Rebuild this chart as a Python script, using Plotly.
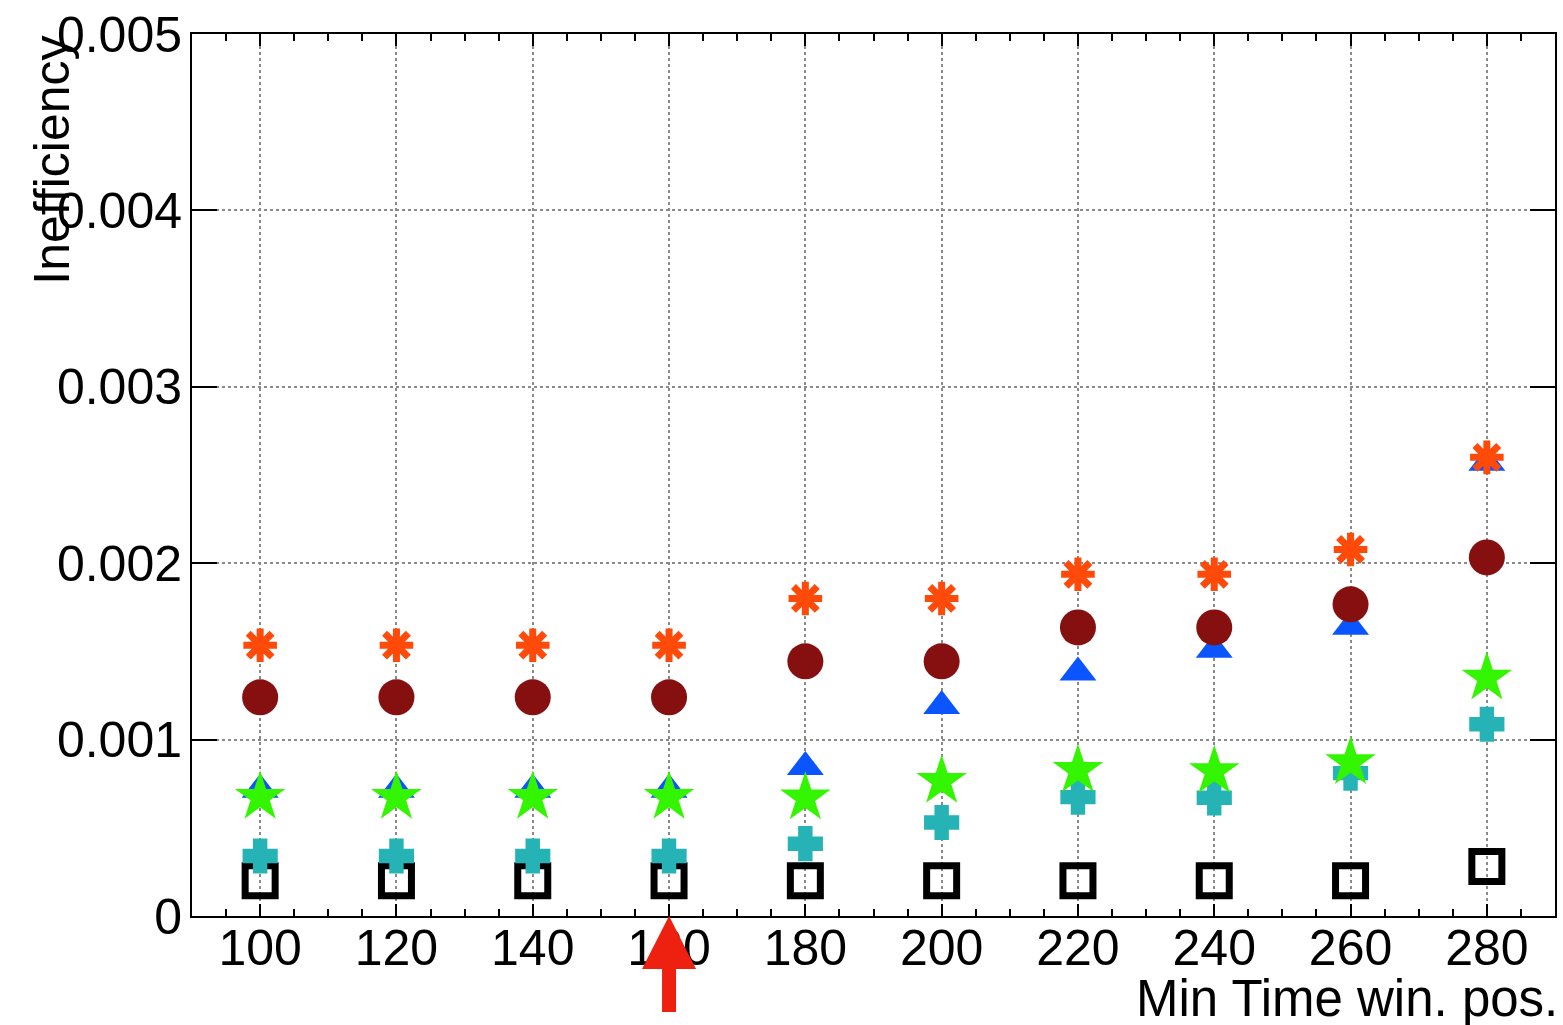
import plotly.graph_objects as go

# ---- data ----
min_time_pos = [100, 120, 140, 160, 180, 200, 220, 240, 260, 280]
ineff_asterisk = [0.001535, 0.001535, 0.001535, 0.001535, 0.00180, 0.00180, 0.001937, 0.001937, 0.002078, 0.00260]
ineff_circle = [0.00124, 0.00124, 0.00124, 0.00124, 0.001444, 0.001444, 0.001636, 0.001636, 0.001767, 0.002033]
ineff_triangle = [0.000716, 0.000716, 0.000716, 0.000716, 0.000845, 0.00119, 0.00138, 0.00151, 0.00164, 0.00257]
ineff_star = [0.000674, 0.000674, 0.000674, 0.000674, 0.000670, 0.000764, 0.000826, 0.000820, 0.000870, 0.00135]
ineff_cross = [0.00034, 0.00034, 0.00034, 0.00034, 0.00041, 0.00053, 0.000674, 0.00067, 0.00081, 0.001087]
ineff_square = [0.00020, 0.00020, 0.00020, 0.00020, 0.00020, 0.00020, 0.00020, 0.00020, 0.00020, 0.00028]

y_tickvals = [0, 0.001, 0.002, 0.003, 0.004, 0.005]
y_ticktext = ["0", "0.001", "0.002", "0.003", "0.004", "0.005"]
x_tickvals = [100, 120, 140, 160, 180, 200, 220, 240, 260, 280]
x_ticktext = ["100", "120", "140", "160", "180", "200", "220", "240", "260", "280"]
x_range = [90, 290]
y_range = [0, 0.005]
arrow_x = 160

FONT = "Liberation Sans, Arial, Helvetica, sans-serif"

fig = go.Figure()

# drawing order: square, cross, triangle, star, circle, asterisk
fig.add_trace(go.Scatter(x=min_time_pos, y=ineff_square, mode="markers",
                         marker=dict(symbol="square-open", size=30, color="black",
                                     line=dict(width=7, color="black"))))
fig.add_trace(go.Scatter(x=min_time_pos, y=ineff_cross, mode="markers",
                         marker=dict(symbol="cross", size=26, color="#26B3B6",
                                     line=dict(width=4, color="#26B3B6"))))
fig.add_trace(go.Scatter(x=min_time_pos, y=ineff_triangle, mode="markers",
                         marker=dict(symbol="triangle-up", size=32, color="#0A55FF",
                                     line=dict(width=0))))
fig.add_trace(go.Scatter(x=min_time_pos, y=ineff_star, mode="markers",
                         marker=dict(symbol="star", size=38, color="#33F500",
                                     line=dict(width=0))))
fig.add_trace(go.Scatter(x=min_time_pos, y=ineff_circle, mode="markers",
                         marker=dict(symbol="circle", size=36, color="#861010",
                                     line=dict(width=0))))
fig.add_trace(go.Scatter(x=min_time_pos, y=ineff_asterisk, mode="markers",
                         marker=dict(symbol="asterisk-open", size=28, color="#FF4A0A",
                                     line=dict(width=7, color="#FF4A0A"))))

axis_common = dict(
    showline=True, linecolor="black", linewidth=2, mirror="ticks",
    ticks="inside", tickcolor="black", tickwidth=2,
    showgrid=True, gridcolor="#8a8a8a", gridwidth=1.5, griddash="dot",
    zeroline=False,
    tickfont=dict(family=FONT, size=50, color="black"),
)

fig.update_xaxes(range=x_range, tickmode="array", tickvals=x_tickvals, ticktext=x_ticktext,
                 ticklen=12, ticklabelstandoff=-13,
                 minor=dict(dtick=5, tick0=0, ticks="inside", ticklen=7, tickcolor="black",
                            tickwidth=2, showgrid=False),
                 **axis_common)
fig.update_yaxes(range=y_range, tickmode="array", tickvals=y_tickvals, ticktext=y_ticktext,
                 ticklen=25, ticklabelstandoff=-2, **axis_common)

fig.add_annotation(text="Min Time win. pos.", xref="paper", yref="paper",
                   x=1.0, y=-0.093, xanchor="right", yanchor="middle", showarrow=False,
                   xshift=5,
                   font=dict(family=FONT, size=51, color="black"))
fig.add_annotation(text="Inefficiency", xref="paper", yref="paper", textangle=-90,
                   x=-0.1253, y=1.0, xanchor="left", yanchor="top", showarrow=False,
                   font=dict(family=FONT, size=50, color="black"))

# red arrow pointing at the chosen position
ax_frac = (arrow_x - x_range[0]) / (x_range[1] - x_range[0])
fig.add_shape(type="path", xref="paper", yref="paper", xsizemode="pixel", ysizemode="pixel",
              xanchor=ax_frac, yanchor=0,
              path="M 0,0 L 27,-53 L 7,-53 L 7,-96 L -7,-96 L -7,-53 L -27,-53 Z",
              fillcolor="#EE2010", line=dict(width=0), layer="above")

fig.update_layout(
    width=1563, height=1025,
    margin=dict(l=192, r=6, t=33, b=109),
    paper_bgcolor="white", plot_bgcolor="white",
    showlegend=False,
)

fig.write_html("out.html", config={"displayModeBar": False},
               post_script="document.body.style.margin='0';")
